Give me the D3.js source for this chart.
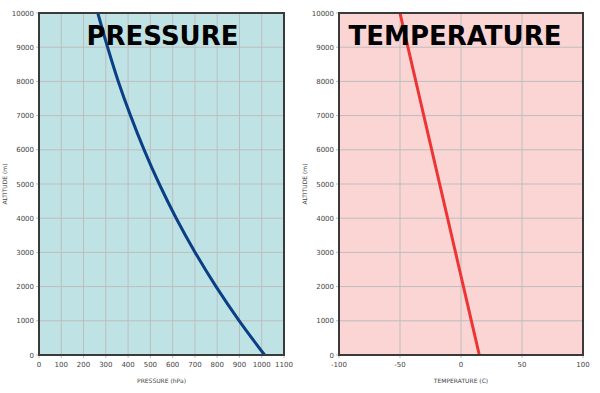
<!DOCTYPE html>
<html>
<head>
<meta charset="utf-8">
<script src="https://cdn.jsdelivr.net/npm/d3@7"></script>
<style>
  body { margin: 0; background: #fff; }
  text { font-family: "DejaVu Sans", sans-serif; }
</style>
</head>
<body>
<svg id="chart"></svg>
<script>
// altitude samples (m)
const altitudes = [0, 1000, 2000, 3000, 4000, 5000, 6000, 7000, 8000, 9000, 10000];
// pressure (hPa)
const pressures = [1013, 899, 795, 701, 616, 540, 472, 411, 356, 308, 264];
// temperature
const temperatures = [15, 8.5, 2, -4.5, -11, -17.5, -24, -30.5, -37, -43.5, -50];

const altTicks = d3.range(0, 10001, 1000);
const pressTicks = d3.range(0, 1101, 100);
const tempTicks = [-100, -50, 0, 50, 100];

const svg = d3.select("#chart")
    .attr("width", 600)
    .attr("height", 393)
    .attr("viewBox", [0, 0, 600, 393]);

function panel(opts) {
    const g = svg.append("g");
    const x = d3.scaleLinear().domain(opts.xDomain).range([opts.left, opts.right]);
    const y = d3.scaleLinear().domain([0, 10000]).range([355, 13]);

    g.append("rect")
        .attr("x", opts.left).attr("y", 13)
        .attr("width", opts.right - opts.left).attr("height", 342)
        .attr("fill", opts.bg);

    // grid
    g.append("g").selectAll("line").data(opts.xTicks).join("line")
        .attr("x1", d => x(d)).attr("x2", d => x(d))
        .attr("y1", 13).attr("y2", 358)
        .attr("stroke", "#bdbdbd").attr("stroke-width", 1);
    g.append("g").selectAll("line").data(altTicks).join("line")
        .attr("x1", opts.left - 3).attr("x2", opts.right)
        .attr("y1", d => y(d)).attr("y2", d => y(d))
        .attr("stroke", "#bdbdbd").attr("stroke-width", 1);

    // tick labels
    g.append("g").selectAll("text").data(opts.xTicks).join("text")
        .attr("x", d => x(d)).attr("y", 367)
        .attr("text-anchor", "middle")
        .attr("font-size", 7).attr("fill", "#444")
        .text(d => d);
    g.append("g").selectAll("text").data(altTicks).join("text")
        .attr("x", opts.left - 5).attr("y", d => y(d) + 2.5)
        .attr("text-anchor", "end")
        .attr("font-size", 7).attr("fill", "#444")
        .text(d => d);

    // axis titles
    g.append("text")
        .attr("x", (opts.left + opts.right) / 2).attr("y", 383)
        .attr("text-anchor", "middle")
        .attr("font-size", 6).attr("fill", "#444")
        .text(opts.xLabel);
    g.append("text")
        .attr("transform", `translate(${opts.left - 32},184) rotate(-90)`)
        .attr("text-anchor", "middle")
        .attr("font-size", 6).attr("fill", "#444")
        .text("ALTITUDE (m)");

    // data line
    const line = d3.line()
        .x((d, i) => x(d))
        .y((d, i) => y(altitudes[i]))
        .curve(d3.curveMonotoneY);
    g.append("path")
        .datum(opts.values)
        .attr("d", line)
        .attr("fill", "none")
        .attr("stroke", opts.color)
        .attr("stroke-width", 3);

    // frame
    g.append("rect")
        .attr("x", opts.left).attr("y", 13)
        .attr("width", opts.right - opts.left).attr("height", 342)
        .attr("fill", "none")
        .attr("stroke", "#3a3a3a").attr("stroke-width", 2);

    // big title
    g.append("text")
        .attr("x", opts.titleX).attr("y", 45)
        .attr("text-anchor", "middle")
        .attr("font-size", 26).attr("font-weight", "bold")
        .attr("fill", "#000")
        .text(opts.title);
}

panel({
    left: 39, right: 284,
    xDomain: [0, 1100], xTicks: pressTicks,
    values: pressures, color: "#0a3f86", bg: "#bfe3e5",
    xLabel: "PRESSURE (hPa)", title: "PRESSURE", titleX: 162.5
});

panel({
    left: 339, right: 583,
    xDomain: [-100, 100], xTicks: tempTicks,
    values: temperatures, color: "#ee3535", bg: "#fbd5d4",
    xLabel: "TEMPERATURE (C)", title: "TEMPERATURE", titleX: 455
});
</script>
</body>
</html>
